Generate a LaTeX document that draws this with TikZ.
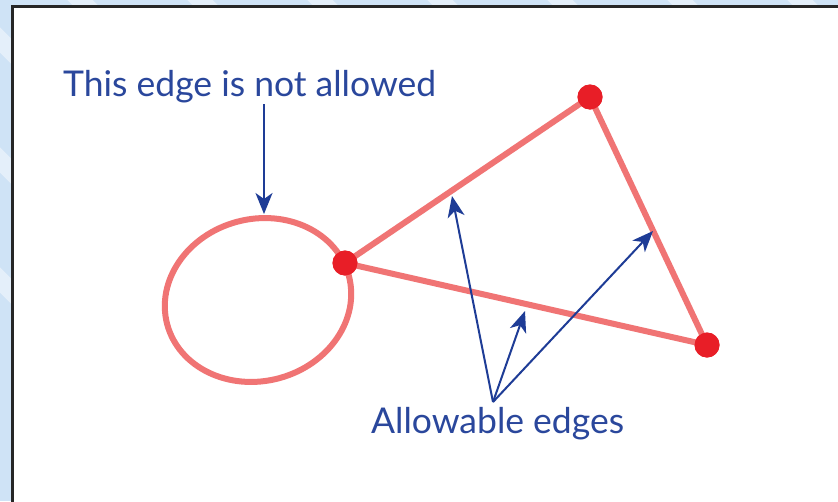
\documentclass[tikz,border=0pt]{standalone}
\usepackage{fontspec}
\setmainfont{Lato}
\usetikzlibrary{arrows.meta}
\definecolor{bgblue}{HTML}{CFE3F6}
\definecolor{edgepink}{HTML}{F07474}
\definecolor{dotred}{HTML}{E81E27}
\definecolor{arrowblue}{HTML}{1E3C96}
\definecolor{textblue}{HTML}{2A479C}
\tikzset{
  graphedge/.style={draw=edgepink, line width=6pt},
  vertex/.style={circle, fill=dotred, minimum size=25pt, inner sep=0pt},
  pointer/.style={draw=arrowblue, line width=2pt, -{Stealth[length=21pt, width=17pt, inset=6pt]}},
  caption/.style={text=textblue, font=\fontsize{35.5}{42}\selectfont, inner sep=0pt, anchor=base west},
}
\begin{document}
\begin{tikzpicture}[x=1pt, y=-1pt]
\useasboundingbox (0,0) rectangle (838,501);
\begin{scope}
\clip (0,0) rectangle (838,501);
\fill[bgblue] (0,0) rectangle (838,501);
\foreach \s in {-300,-180,-60,60,180,300,420,540,660,780,900}
  \draw[white, opacity=0.45, line width=18pt] (\s,-20) -- ++(540,540);
\fill[white, draw=black!85, line width=3pt] (12,6) rectangle (860,530);
\end{scope}

% vertices
\node[vertex] (A) at (345,263) {};
\node[vertex] (B) at (590,97) {};
\node[vertex] (C) at (707,345) {};

% loop and edges
\draw[graphedge, rotate around={15:(258,300)}] (258,300) ellipse [x radius=94, y radius=81];
\draw[graphedge] (A.center) -- (B.center) -- (C.center) -- (A.center);
\node[vertex] at (A) {};
\node[vertex] at (B) {};
\node[vertex] at (C) {};

% labels
\node[caption] (notallowed) at (63,96) {This edge is not allowed};
\node[caption] (allowable) at (371,433) {Allowable edges};

% pointers
\coordinate (top) at (264,104);
\coordinate (loopTip) at (264,214);
\coordinate (src) at (493,402);
\coordinate (t1) at (452,196);
\coordinate (t2) at (525,311);
\coordinate (t3) at (653,231);
\draw[pointer] (top) -- (loopTip);
\draw[pointer] (src) -- (t1);
\draw[pointer] (src) -- (t2);
\draw[pointer] (src) -- (t3);
\end{tikzpicture}
\end{document}
